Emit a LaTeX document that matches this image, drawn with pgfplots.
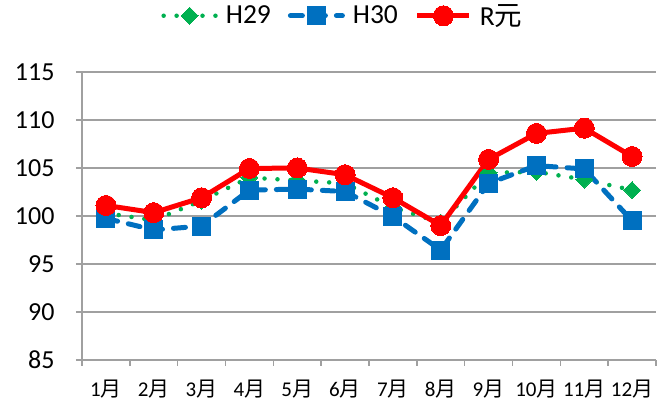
\documentclass[border=0pt]{standalone}
\usepackage{pgfplots}
\pgfplotsset{compat=1.18}
\usepackage{fontspec}
\setmainfont{Carlito}
\newfontfamily\cjk{Noto Sans CJK JP}
\definecolor{cgreen}{HTML}{00B050}
\definecolor{cblue}{HTML}{0070C0}
\definecolor{cred}{HTML}{FF0000}
\definecolor{cgrid}{HTML}{A0A0A0}
\begin{document}
\begin{tikzpicture}
\useasboundingbox (-82pt,-41pt) rectangle (575pt,360pt);
\begin{axis}[
  scale only axis, width=574pt, height=288pt,
  at={(0pt,0pt)}, anchor=south west,
  xmin=0.5, xmax=12.5, ymin=85, ymax=115,
  ytick={85,90,...,115},
  xtick={0.5,1.5,...,12.5},
  xticklabels={1{\cjk 月},2{\cjk 月},3{\cjk 月},4{\cjk 月},5{\cjk 月},6{\cjk 月},7{\cjk 月},8{\cjk 月},9{\cjk 月},10{\cjk 月},11{\cjk 月},12{\cjk 月},{}},
  x tick label style={xshift=23.9pt, yshift=-10pt, font=\fontsize{21}{24}\selectfont, anchor=north},
  y tick label style={font=\fontsize{26}{30}\selectfont, anchor=east, xshift=-18pt},
  /pgf/number format/assume math mode=true,
  axis lines*=left,
  axis line style={draw=cgrid, line width=1.5pt, -},
  tick align=outside,
  major tick length=6pt,
  tick style={draw=cgrid, line width=1.5pt},
  ymajorgrids,
  grid style={draw=cgrid, line width=1.5pt},
  clip=false,
  legend columns=3,
  legend style={draw=none, fill=none, at={(axis description cs:0.138,1.235)}, anchor=north west,
    font=\fontsize{27.5}{30}\selectfont, column sep=8pt, inner sep=0pt,
    nodes={inner sep=0pt, font=\fontsize{27.5}{30}\selectfont}},
  legend cell align=left,
  legend image code/.code={
    \draw[mark repeat=2, mark phase=2, #1] plot coordinates {(0pt,0pt) (26pt,0pt) (52pt,0pt)};
  },
]
\addplot[color=cgreen, line width=4.5pt, line cap=round, dash pattern=on 0pt off 12.95pt,
  mark=square*, mark size=6pt, mark options={solid, rotate=45, fill=cgreen, draw=cgreen, line width=0pt}]
  coordinates {(1,100.3) (2,99.55) (3,101.6) (4,104.0) (5,103.7) (6,103.4) (7,100.9) (8,99.3) (9,104.5) (10,104.6) (11,103.8) (12,102.7)};
\addlegendentry{H29\hspace*{9pt}}
\addplot[color=cblue, line width=5pt, line cap=round, dash pattern=on 12pt off 11pt,
  mark=square*, mark size=9pt, mark options={solid, fill=cblue, draw=cblue, line width=0pt}]
  coordinates {(1,99.75) (2,98.55) (3,98.95) (4,102.7) (5,102.8) (6,102.55) (7,99.95) (8,96.45) (9,103.4) (10,105.25) (11,104.9) (12,99.5)};
\addlegendentry{H30\hspace*{9pt}}
\addplot[color=cred, line width=5pt,
  mark=*, mark size=10pt, mark options={solid, fill=cred, draw=cred, line width=0pt}]
  coordinates {(1,101.1) (2,100.35) (3,101.9) (4,104.95) (5,105.0) (6,104.3) (7,101.9) (8,99.0) (9,105.9) (10,108.6) (11,109.15) (12,106.2)};
\addlegendentry{R{\cjk 元}}
\end{axis}
\end{tikzpicture}
\end{document}
